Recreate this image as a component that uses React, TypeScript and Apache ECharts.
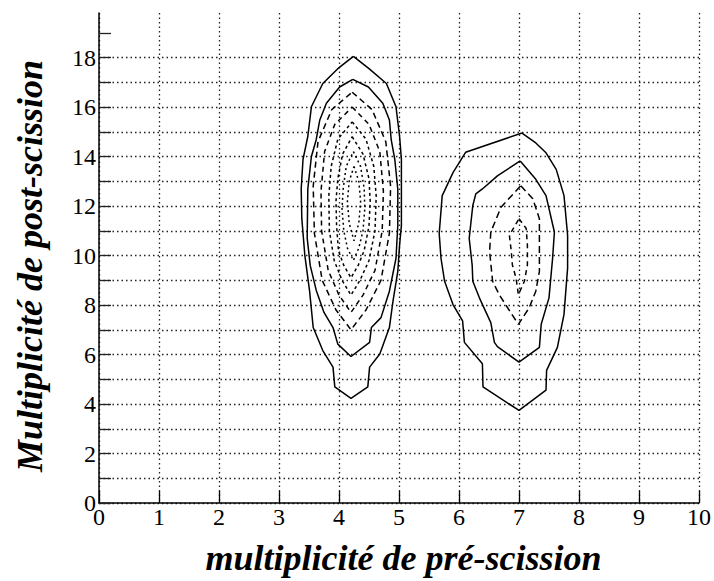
import React, { useEffect, useRef } from "react";
import * as echarts from "echarts";

// Axis ticks
const xTicks = [0, 1, 2, 3, 4, 5, 6, 7, 8, 9, 10];
const yTickValues = [0, 1, 2, 3, 4, 5, 6, 7, 8, 9, 10, 11, 12, 13, 14, 15, 16, 17, 18, 19];
const yLabelValues = [0, 2, 4, 6, 8, 10, 12, 14, 16, 18];

// Left peak contours (x = pre-scission, y = post-scission)
const leftL1 = [
  [4.24, 18.05], [4.5, 17.55], [4.79, 16.95], [4.95, 16.01], [5.01, 14.81], [5.04, 13.88],
  [5.04, 11.22], [5.01, 10.42], [4.98, 9.36], [4.9, 8.16], [4.84, 7.09], [4.68, 6.02],
  [4.51, 5.49], [4.48, 4.69], [4.2, 4.23], [3.93, 4.69], [3.9, 5.49], [3.73, 6.16],
  [3.57, 7.09], [3.51, 8.56], [3.43, 10.02], [3.38, 11.5], [3.37, 12.69], [3.4, 13.88],
  [3.48, 14.81], [3.54, 16.01], [3.73, 16.95], [3.98, 17.55], [4.24, 18.05],
];
const leftL2 = [
  [4.23, 17.12], [4.49, 16.81], [4.73, 16.15], [4.84, 15.48], [4.87, 14.68], [4.93, 13.88],
  [4.98, 12.68], [4.98, 11.22], [4.95, 9.89], [4.84, 8.56], [4.7, 7.49], [4.54, 7.09],
  [4.51, 6.49], [4.2, 5.92], [3.98, 6.42], [3.9, 7.09], [3.75, 7.7], [3.62, 8.6],
  [3.52, 9.6], [3.47, 10.7], [3.48, 12.68], [3.54, 14.0], [3.62, 14.68], [3.68, 15.48],
  [3.79, 16.15], [4.01, 16.81], [4.23, 17.12],
];
const leftL3 = [
  [4.22, 16.6], [4.55, 15.9], [4.78, 14.6], [4.86, 12.8], [4.84, 10.9], [4.7, 9.0],
  [4.45, 7.8], [4.2, 7.0], [3.95, 7.8], [3.72, 9.0], [3.59, 10.9], [3.57, 12.8],
  [3.65, 14.6], [3.88, 15.9], [4.22, 16.6],
];
const leftL4 = [
  [4.22, 16.0], [4.5, 15.3], [4.68, 14.2], [4.74, 12.6], [4.72, 11.0], [4.6, 9.4],
  [4.4, 8.4], [4.2, 7.7], [4.0, 8.4], [3.82, 9.4], [3.71, 11.0], [3.7, 12.6],
  [3.76, 14.2], [3.93, 15.3], [4.22, 16.0],
];
const leftL5 = [
  [4.22, 15.4], [4.45, 14.7], [4.58, 13.6], [4.62, 12.4], [4.6, 11.0], [4.5, 9.8],
  [4.35, 9.0], [4.2, 8.4], [4.05, 9.0], [3.92, 9.8], [3.84, 11.0], [3.83, 12.4],
  [3.87, 13.6], [3.98, 14.7], [4.22, 15.4],
];
const leftL6 = [
  [4.22, 14.8], [4.4, 14.1], [4.5, 13.1], [4.52, 12.2], [4.5, 11.2], [4.42, 10.2],
  [4.32, 9.6], [4.2, 9.1], [4.08, 9.6], [3.99, 10.2], [3.96, 11.2], [3.95, 12.2],
  [3.98, 13.1], [4.06, 14.1], [4.22, 14.8],
];
const leftL7 = [
  [4.24, 14.2], [4.36, 13.6], [4.42, 12.7], [4.43, 11.9], [4.4, 11.0], [4.33, 10.3],
  [4.24, 9.8], [4.14, 10.3], [4.08, 11.0], [4.05, 11.9], [4.07, 12.7], [4.12, 13.6],
  [4.24, 14.2],
];
const leftL8 = [
  [4.25, 13.6], [4.33, 13.0], [4.36, 12.2], [4.33, 11.3], [4.25, 10.6], [4.17, 11.3],
  [4.14, 12.2], [4.17, 13.0], [4.25, 13.6],
];

// Right peak contours
const rightL1 = [
  [7.05, 14.95], [7.28, 14.55], [7.45, 14.15], [7.62, 13.48], [7.75, 12.42], [7.81, 10.82],
  [7.81, 9.49], [7.78, 8.56], [7.75, 7.62], [7.64, 6.29], [7.46, 5.36], [7.45, 4.56],
  [7.0, 3.74], [6.4, 4.69], [6.39, 5.63], [6.09, 6.49], [6.06, 7.36], [5.9, 8.02],
  [5.76, 8.96], [5.7, 9.89], [5.67, 10.89], [5.72, 12.42], [5.76, 12.62], [5.9, 13.35],
  [6.11, 14.17], [7.05, 14.95],
];
const rightL2 = [
  [7.02, 13.82], [7.28, 13.08], [7.45, 12.42], [7.59, 10.95], [7.56, 9.89], [7.5, 8.29],
  [7.37, 7.22], [7.34, 6.29], [7.0, 5.69], [6.64, 6.32], [6.59, 6.49], [6.53, 7.29],
  [6.34, 8.29], [6.23, 8.96], [6.22, 9.6], [6.17, 10.69], [6.23, 12.02], [6.28, 12.49],
  [6.39, 12.69], [6.64, 13.22], [7.02, 13.82],
];
const rightL3 = [
  [7.03, 12.82], [7.23, 12.29], [7.34, 11.49], [7.34, 9.89], [7.34, 9.36], [7.28, 8.56],
  [7.17, 7.89], [6.99, 7.22], [6.81, 7.89], [6.67, 8.42], [6.56, 8.96], [6.51, 10.16],
  [6.53, 10.95], [6.7, 11.95], [7.03, 12.82],
];
const rightL4 = [
  [7.0, 11.49], [7.12, 11.09], [7.14, 10.42], [7.14, 9.62], [7.09, 8.96], [6.99, 8.42],
  [6.95, 9.09], [6.89, 9.62], [6.87, 10.2], [6.84, 10.82], [7.0, 11.49],
];

const FONT = "Liberation Serif";

function contour(data: number[][], type: any, width = 1.5) {
  return {
    type: "line",
    data,
    showSymbol: false,
    symbol: "none",
    smooth: false,
    silent: true,
    lineStyle: { color: "#000", width, type },
    z: 5,
  };
}

export default function App() {
  const ref = useRef<HTMLDivElement>(null);
  useEffect(() => {
    document.body.style.margin = "0";
    const chart = echarts.init(ref.current!, null, { renderer: "svg" });
    const gridLine = { show: true, lineStyle: { color: "#222", width: 1.3, type: [1.5, 3] as any } };
    chart.setOption({
      animation: false,
      backgroundColor: "#fff",
      textStyle: { fontFamily: FONT },
      grid: { left: 99, right: 14, top: 13, bottom: 74 },
      xAxis: {
        type: "value",
        min: xTicks[0],
        max: xTicks[xTicks.length - 1],
        interval: 1,
        name: "multiplicité de pré-scission",
        nameLocation: "middle",
        nameGap: 37,
        nameTextStyle: {
          fontFamily: FONT, fontSize: 36, fontWeight: "bold", fontStyle: "italic", color: "#000",
          padding: [0, 0, 0, 9],
        },
        axisLine: { show: true, lineStyle: { color: "#000", width: 1.5 } },
        axisTick: { show: true, inside: true, length: 12, lineStyle: { color: "#000", width: 1.3 } },
        axisLabel: { fontFamily: FONT, fontSize: 24, color: "#000", margin: 2 },
        splitLine: gridLine,
      },
      yAxis: {
        type: "value",
        min: 0,
        max: 19.8,
        interval: 1,
        name: "Multiplicité de post-scission",
        nameLocation: "middle",
        nameRotate: 90,
        nameGap: 51,
        nameTextStyle: {
          fontFamily: FONT, fontSize: 36, fontWeight: "bold", fontStyle: "italic", color: "#000",
          padding: [0, 16, 0, 0],
        },
        axisLine: { show: true, lineStyle: { color: "#000", width: 1.5 } },
        axisTick: { show: true, inside: true, length: 12, customValues: yTickValues, lineStyle: { color: "#222", width: 1.3 } },
        axisLabel: {
          fontFamily: FONT,
          fontSize: 24,
          color: "#000",
          margin: 3,
          verticalAlign: "middle",
          customValues: yLabelValues,
          formatter: (v: number) => (yLabelValues.indexOf(v) >= 0 ? String(v) : ""),
        },
        splitLine: { ...gridLine, showMaxLine: false },
      },
      series: [
        contour(leftL1, "solid"),
        contour(leftL2, "solid"),
        contour(leftL3, [6, 4]),
        contour(leftL4, [5, 4]),
        contour(leftL5, [3, 3]),
        contour(leftL6, [3, 3]),
        contour(leftL7, [2, 3]),
        contour(leftL8, [2, 3]),
        contour(rightL1, "solid"),
        contour(rightL2, "solid"),
        contour(rightL3, [7, 4]),
        contour(rightL4, [5, 4]),
      ],
    });
    return () => chart.dispose();
  }, []);
  return <div ref={ref} style={{ width: 714, height: 581 }} />;
}
